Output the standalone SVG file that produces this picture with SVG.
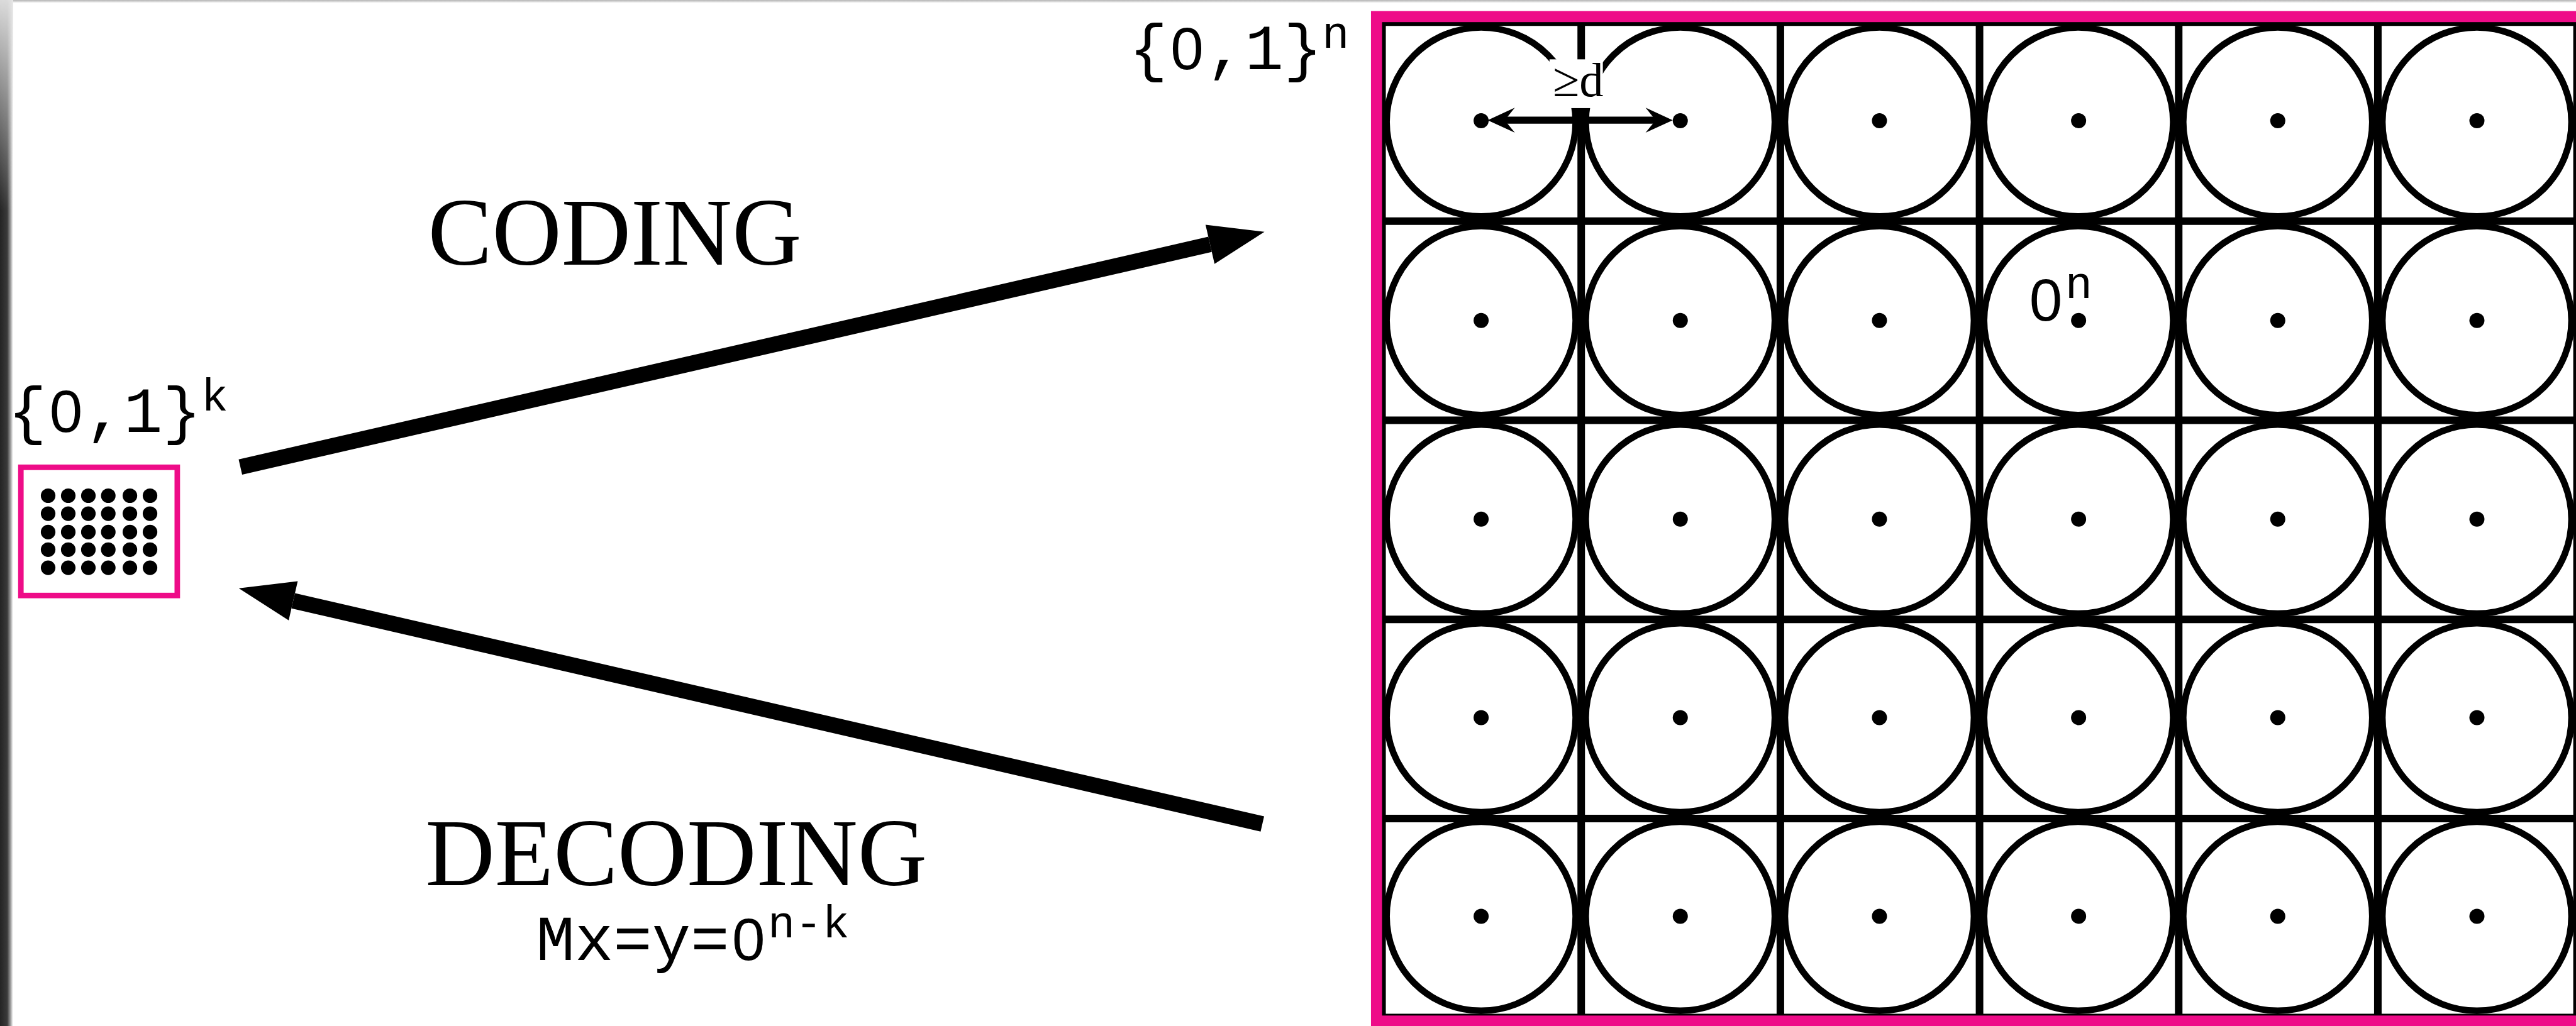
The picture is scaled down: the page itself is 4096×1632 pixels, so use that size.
<svg xmlns="http://www.w3.org/2000/svg" width="4096" height="1632" viewBox="0 0 4096 1632">
  <defs>
    <style>
      .serif { font-family: "Liberation Serif", "Times New Roman", serif; fill: #000; }
      .mono { font-family: "Liberation Mono", "Courier New", monospace; fill: #000; }
      .zero { font-family: "Liberation Sans", Arial, sans-serif; font-size: 118px; }
      .pink { fill: none; stroke: #EE0C88; }
      .grid { fill: none; stroke: #000; stroke-width: 15; }
      .ring { fill: none; stroke: #000; stroke-width: 13; }
      .shaft { fill: none; stroke: #000; stroke-width: 31; stroke-linecap: butt; }
    </style>
    <marker id="bighead" markerUnits="userSpaceOnUse" markerWidth="111" markerHeight="80" viewBox="0 -40 111 80" refX="0" refY="0" orient="auto" overflow="visible">
      <path d="M0,-40 L111,0 L0,40 Z" fill="#000"/>
    </marker>
    <linearGradient id="leftShade" x1="0" y1="0" x2="1" y2="0">
      <stop offset="0" stop-color="#242424"/>
      <stop offset="0.55" stop-color="#3a3a3a"/>
      <stop offset="0.8" stop-color="#9a9a9a"/>
      <stop offset="1" stop-color="#ffffff"/>
    </linearGradient>
    <linearGradient id="leftFade" x1="0" y1="0" x2="0" y2="1">
      <stop offset="0" stop-color="#e4e4e4" stop-opacity="0.95"/>
      <stop offset="1" stop-color="#e4e4e4" stop-opacity="0"/>
    </linearGradient>
    <linearGradient id="topShade" x1="0" y1="0" x2="0" y2="1">
      <stop offset="0" stop-color="#b4b4b4"/>
      <stop offset="1" stop-color="#eeeeee"/>
    </linearGradient>
  </defs>

  <rect width="4096" height="1632" fill="#fff"/>

  <g transform="scale(0.79969)">
    <!-- window edge shading -->
    <rect x="0" y="0" width="5122" height="5" fill="url(#topShade)"/>
    <rect x="0" y="0" width="26" height="2041" fill="url(#leftShade)"/>
    <rect x="0" y="0" width="26" height="420" fill="url(#leftFade)"/>

    <!-- message space {0,1}^k -->
    <g id="message-space">
      <text class="mono" y="859" font-size="128"><tspan x="16">{</tspan><tspan class="zero" x="98.4">0</tspan><tspan x="169.6">,1}</tspan><tspan x="400" dy="-42" font-size="90">k</tspan></text>
      <rect class="pink" x="41.5" y="929.5" width="311" height="255" stroke-width="11"/>
      <g fill="#000">
        <circle cx="95.7" cy="986" r="14.5"/><circle cx="135.7" cy="986" r="14.5"/><circle cx="175.7" cy="986" r="14.5"/><circle cx="215.3" cy="986" r="14.5"/><circle cx="258.3" cy="986" r="14.5"/><circle cx="298.3" cy="986" r="14.5"/>
        <circle cx="95.7" cy="1021.7" r="14.5"/><circle cx="135.7" cy="1021.7" r="14.5"/><circle cx="175.7" cy="1021.7" r="14.5"/><circle cx="215.3" cy="1021.7" r="14.5"/><circle cx="258.3" cy="1021.7" r="14.5"/><circle cx="298.3" cy="1021.7" r="14.5"/>
        <circle cx="95.7" cy="1058.3" r="14.5"/><circle cx="135.7" cy="1058.3" r="14.5"/><circle cx="175.7" cy="1058.3" r="14.5"/><circle cx="215.3" cy="1058.3" r="14.5"/><circle cx="258.3" cy="1058.3" r="14.5"/><circle cx="298.3" cy="1058.3" r="14.5"/>
        <circle cx="95.7" cy="1093.3" r="14.5"/><circle cx="135.7" cy="1093.3" r="14.5"/><circle cx="175.7" cy="1093.3" r="14.5"/><circle cx="215.3" cy="1093.3" r="14.5"/><circle cx="258.3" cy="1093.3" r="14.5"/><circle cx="298.3" cy="1093.3" r="14.5"/>
        <circle cx="95.7" cy="1129.3" r="14.5"/><circle cx="135.7" cy="1129.3" r="14.5"/><circle cx="175.7" cy="1129.3" r="14.5"/><circle cx="215.3" cy="1129.3" r="14.5"/><circle cx="258.3" cy="1129.3" r="14.5"/><circle cx="298.3" cy="1129.3" r="14.5"/>
      </g>
    </g>

    <!-- labels of the mappings -->
    <g id="coding-label">
      <text class="serif" x="851" y="527" font-size="191">CODING</text>
    </g>
    <g id="decoding-label">
      <text class="serif" x="846" y="1761" font-size="191">DECODING</text>
      <text class="mono" y="1909" font-size="128"><tspan x="1066">Mx=y=</tspan><tspan class="zero" x="1455.6">0</tspan><tspan x="1527" dy="-45" font-size="90">n-k</tspan></text>
    </g>

    <!-- code space {0,1}^n -->
    <g id="code-space">
      <text class="mono" y="137" font-size="128"><tspan x="2245">{</tspan><tspan class="zero" x="2327.4">0</tspan><tspan x="2398.6">,1}</tspan><tspan x="2629" dy="-42" font-size="90">n</tspan></text>
      <path class="grid" d="M2748,44 V2024 M3144,44 V2024 M3540,44 V2024 M3936,44 V2024 M4332,44 V2024 M4728,44 V2024 M5124,44 V2024 M2748,44 H5124 M2748,440 H5124 M2748,836 H5124 M2748,1232 H5124 M2748,1628 H5124 M2748,2024 H5124"/>
      <g class="ring">
        <circle cx="2945" cy="242.5" r="188"/><circle cx="3341" cy="242.5" r="188"/><circle cx="3737" cy="242.5" r="188"/><circle cx="4133" cy="242.5" r="188"/><circle cx="4529" cy="242.5" r="188"/><circle cx="4925" cy="242.5" r="188"/>
        <circle cx="2945" cy="637.5" r="188"/><circle cx="3341" cy="637.5" r="188"/><circle cx="3737" cy="637.5" r="188"/><circle cx="4133" cy="637.5" r="188"/><circle cx="4529" cy="637.5" r="188"/><circle cx="4925" cy="637.5" r="188"/>
        <circle cx="2945" cy="1032.5" r="188"/><circle cx="3341" cy="1032.5" r="188"/><circle cx="3737" cy="1032.5" r="188"/><circle cx="4133" cy="1032.5" r="188"/><circle cx="4529" cy="1032.5" r="188"/><circle cx="4925" cy="1032.5" r="188"/>
        <circle cx="2945" cy="1427.5" r="188"/><circle cx="3341" cy="1427.5" r="188"/><circle cx="3737" cy="1427.5" r="188"/><circle cx="4133" cy="1427.5" r="188"/><circle cx="4529" cy="1427.5" r="188"/><circle cx="4925" cy="1427.5" r="188"/>
        <circle cx="2945" cy="1822.5" r="188"/><circle cx="3341" cy="1822.5" r="188"/><circle cx="3737" cy="1822.5" r="188"/><circle cx="4133" cy="1822.5" r="188"/><circle cx="4529" cy="1822.5" r="188"/><circle cx="4925" cy="1822.5" r="188"/>
      </g>
      <g fill="#000">
        <circle cx="2945" cy="240" r="15"/><circle cx="3341" cy="240" r="15"/><circle cx="3737" cy="240" r="15"/><circle cx="4133" cy="240" r="15"/><circle cx="4529" cy="240" r="15"/><circle cx="4925" cy="240" r="15"/>
        <circle cx="2945" cy="637.5" r="15"/><circle cx="3341" cy="637.5" r="15"/><circle cx="3737" cy="637.5" r="15"/><circle cx="4133" cy="637.5" r="15"/><circle cx="4529" cy="637.5" r="15"/><circle cx="4925" cy="637.5" r="15"/>
        <circle cx="2945" cy="1032.5" r="15"/><circle cx="3341" cy="1032.5" r="15"/><circle cx="3737" cy="1032.5" r="15"/><circle cx="4133" cy="1032.5" r="15"/><circle cx="4529" cy="1032.5" r="15"/><circle cx="4925" cy="1032.5" r="15"/>
        <circle cx="2945" cy="1427.5" r="15"/><circle cx="3341" cy="1427.5" r="15"/><circle cx="3737" cy="1427.5" r="15"/><circle cx="4133" cy="1427.5" r="15"/><circle cx="4529" cy="1427.5" r="15"/><circle cx="4925" cy="1427.5" r="15"/>
        <circle cx="2945" cy="1822.5" r="15"/><circle cx="3341" cy="1822.5" r="15"/><circle cx="3737" cy="1822.5" r="15"/><circle cx="4133" cy="1822.5" r="15"/><circle cx="4529" cy="1822.5" r="15"/><circle cx="4925" cy="1822.5" r="15"/>
      </g>
      <!-- distance marker >= d -->
      <g id="distance-marker">
        <rect x="3081" y="118" width="106" height="97" fill="#fff"/>
        <text class="serif" x="3138" y="191" font-size="96" text-anchor="middle">≥d</text>
        <line x1="2980" y1="239" x2="3302" y2="239" stroke="#000" stroke-width="14"/>
        <path d="M2958,239 L3012,214 L2992,239 L3012,264 Z" fill="#000"/>
        <path d="M3326,239 L3272,214 L3292,239 L3272,264 Z" fill="#000"/>
      </g>
      <text class="mono" y="637.3" font-size="128"><tspan class="zero" x="4035.1">0</tspan><tspan x="4106.3" dy="-44" font-size="90">n</tspan></text>
      <rect class="pink" x="2737" y="33" width="2398" height="1998" stroke-width="22"/>
    </g>

    <!-- connectors -->
    <g id="connectors">
      <line class="shaft" x1="478" y1="929" x2="2406" y2="486" marker-end="url(#bighead)"/>
      <line class="shaft" x1="2510" y1="1639" x2="583" y2="1195" marker-end="url(#bighead)"/>
    </g>
  </g>
</svg>
